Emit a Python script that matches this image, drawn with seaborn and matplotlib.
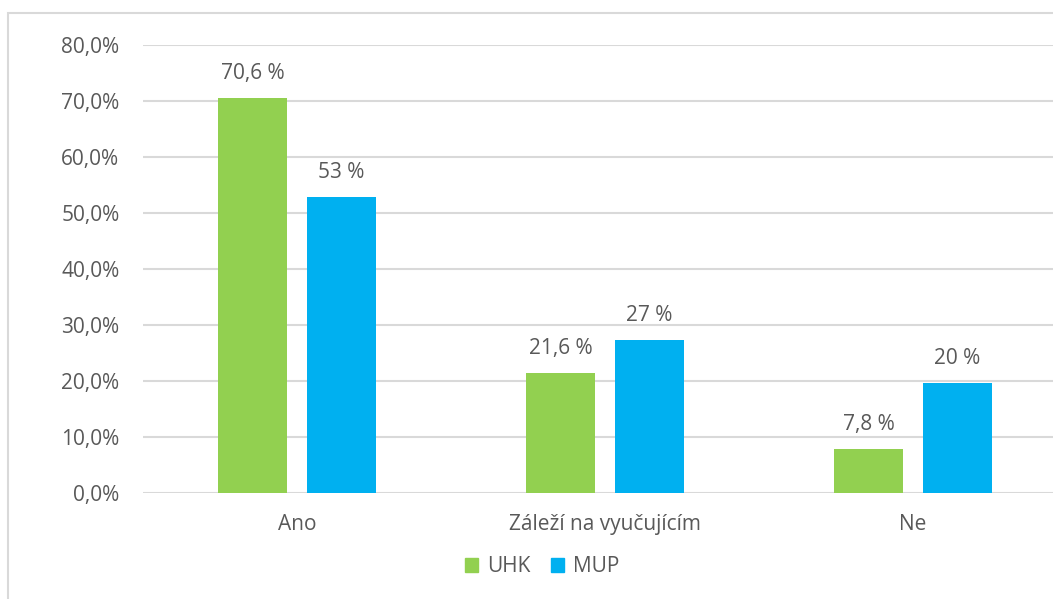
import pandas as pd
import matplotlib.pyplot as plt
import seaborn as sns
from matplotlib.patches import Rectangle, Patch

# Data
categories = ["Ano", "Záleží na vyučujícím", "Ne"]
uhk = [70.6, 21.5, 7.8]
mup = [52.9, 27.4, 19.6]
uhk_labels = ["70,6 %", "21,6 %", "7,8 %"]
mup_labels = ["53 %", "27 %", "20 %"]
yticks = [0, 10, 20, 30, 40, 50, 60, 70, 80]

df = pd.DataFrame({
    "kategorie": categories * 2,
    "hodnota": uhk + mup,
    "skupina": ["UHK"] * 3 + ["MUP"] * 3,
})

sns.set_style("white")
plt.rcParams['font.family'] = ['Open Sans', 'DejaVu Sans']
grey_text = "#595959"
grid_col = "#D9D9D9"
colors = {"UHK": "#92D050", "MUP": "#00B0F0"}
fs = 15

fig = plt.figure(figsize=(10.53, 5.99), dpi=100)
ax = fig.add_axes([143 / 1053, 1 - 493 / 599, 924 / 1053, 448 / 599])

sns.barplot(data=df, x="kategorie", y="hodnota", hue="skupina", palette=colors,
            saturation=1, linewidth=0, width=0.578, gap=0.225, ax=ax, legend=False, zorder=3)

for cont, labs in zip(ax.containers, [uhk_labels, mup_labels]):
    ax.bar_label(cont, labels=labs, padding=10, fontsize=fs, color=grey_text)

ax.set_ylim(0, 80)
ax.set_xlim(-0.5, 2.5)
ax.set_yticks(yticks)
ax.set_yticklabels([f"{v:.1f}%".replace(".", ",") for v in yticks])
ax.yaxis.grid(True, color=grid_col, linewidth=1.5, zorder=0)
ax.set_axisbelow(True)
for s in ax.spines.values():
    s.set_visible(False)
ax.tick_params(axis="y", length=0, pad=17, labelsize=fs, labelcolor=grey_text)
ax.tick_params(axis="x", length=0, pad=15, labelsize=fs, labelcolor=grey_text)
ax.set_xlabel("")
ax.set_ylabel("")

handles = [Patch(color=colors["UHK"], label="UHK"), Patch(color=colors["MUP"], label="MUP")]
leg = fig.legend(handles=handles, loc="center", bbox_to_anchor=(542 / 1053, 1 - 567 / 599),
                 ncol=2, frameon=False, fontsize=fs, handlelength=0.65, handleheight=0.65,
                 handletextpad=0.4, columnspacing=1.0)
for t in leg.get_texts():
    t.set_color(grey_text)

# outer chart border
fig.patches.append(Rectangle((8 / 1053, -0.05), 1.1, 1.05 - 13 / 599, transform=fig.transFigure,
                             fill=False, edgecolor=grid_col, linewidth=1.5))

fig.savefig("out.png", dpi=100)
